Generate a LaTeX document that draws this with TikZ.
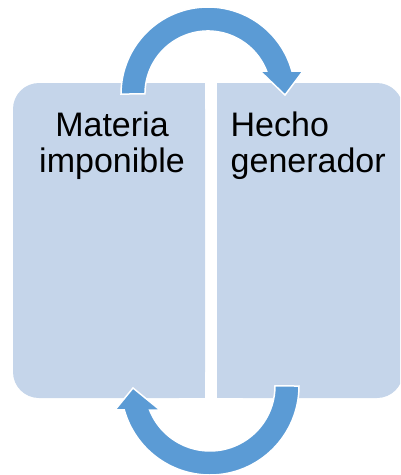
\documentclass[tikz,border=0pt]{standalone}
\usepackage{fontspec}
\setmainfont{Liberation Sans}
\definecolor{boxc}{HTML}{C5D5EA}
\definecolor{arrc}{HTML}{5B9BD5}
\tikzset{
  boxshape/.style={fill=boxc},
  blockarrow/.style={fill=arrc, draw=white, line width=1.5pt, line join=miter},
  label/.style={inner sep=0pt, font=\fontsize{34}{35.5}\selectfont, text=black}
}
\begin{document}
\begin{tikzpicture}[x=1pt,y=-1pt]
\useasboundingbox (0,0) rectangle (400,475);
\clip (0,0) rectangle (400,475);
% left box (rounded on the left)
\fill[boxshape, rounded corners=26pt] (13,83) rectangle (205,398);
\fill[boxshape] (150,83) rectangle (205,398);
% right box (rounded on the right)
\fill[boxshape, rounded corners=26pt] (217,83) rectangle (403,398);
\fill[boxshape] (217,83) rectangle (270,398);
% top curved arrow
\path[blockarrow] (121,94) arc[start angle=180, end angle=344.7, radius=87]
  -- (303,71) -- (285,95) -- (260,71) -- (266.6,71)
  arc[start angle=338.6, end angle=180, radius=63] -- cycle;
% bottom curved arrow
\path[blockarrow] (299,386) arc[start angle=0, end angle=164.4, radius=89]
  -- (115,410) -- (133,388) -- (160,410) -- (149.6,410)
  arc[start angle=158.3, end angle=0, radius=65] -- cycle;
% labels
\node[label, align=center, anchor=base] (materia) at (112,172) {Materia\\imponible};
\node[label, align=left, anchor=base west] (hecho) at (230.5,172) {Hecho\\generador};
\end{tikzpicture}
\end{document}
